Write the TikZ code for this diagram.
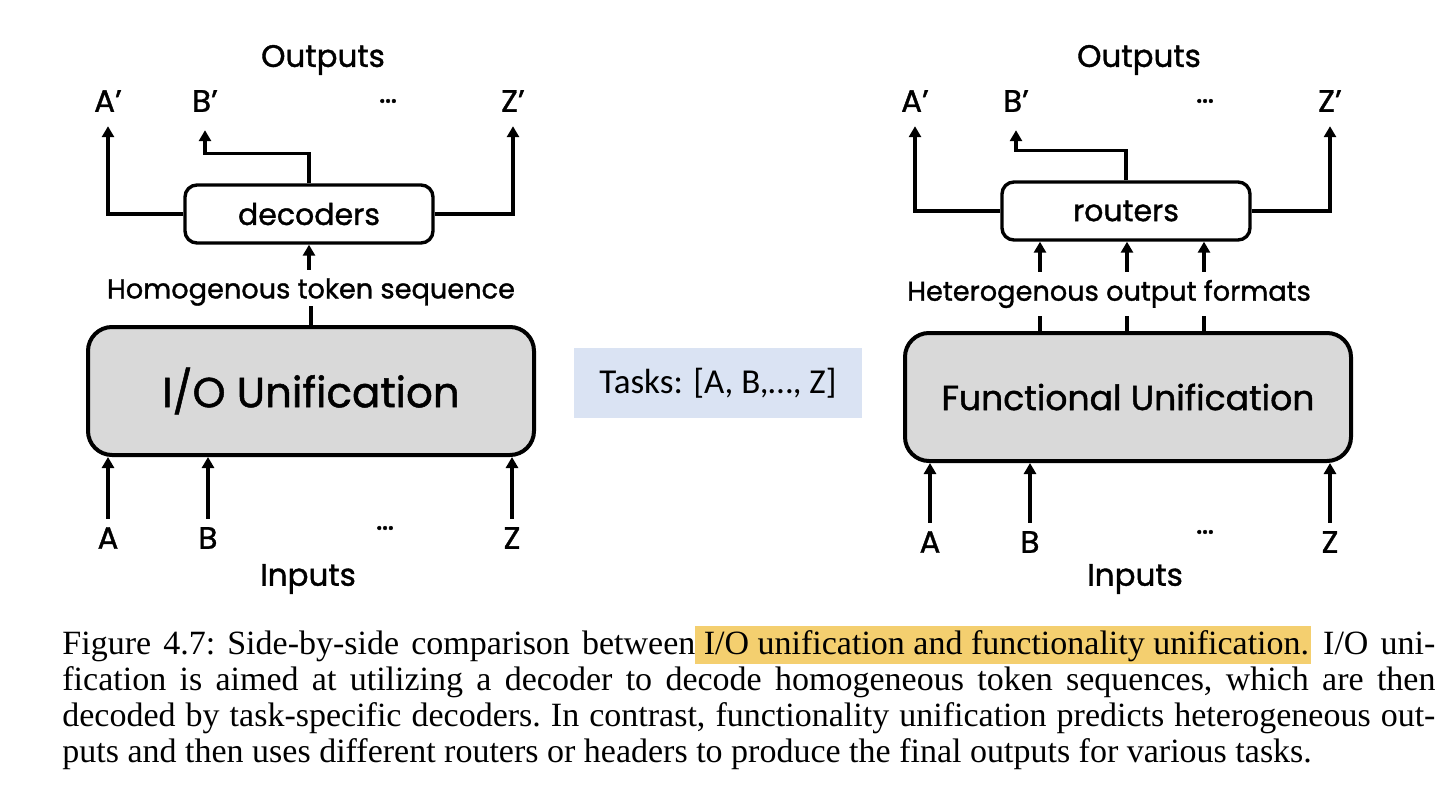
\documentclass[tikz,border=0pt]{standalone}
\usepackage{fontspec}
\setmainfont{Liberation Serif}
\newfontfamily\diagfont{Poppins}[FakeBold=1.2]
\newfontfamily\taskfont{Carlito}
\usetikzlibrary{arrows.meta}
\definecolor{boxgray}{HTML}{D9D9D9}
\definecolor{taskblue}{HTML}{DAE3F3}
\definecolor{hlyellow}{HTML}{F4CF6F}
\newcommand{\hlbox}[1]{{\setlength{\fboxsep}{0pt}\colorbox{hlyellow}{\rule[-5pt]{0pt}{19pt}#1\hspace{1pt}}}}

\begin{document}
\begin{tikzpicture}[x=0.5pt,y=-0.5pt,
    lbl/.style={font=\diagfont\fontsize{15.5}{17}\selectfont, inner sep=0pt},
    small/.style={font=\diagfont\fontsize{13.6}{15}\selectfont, inner sep=0pt},
    unitbox/.style={draw, line width=2pt, rounded corners=12pt, fill=boxgray,
      minimum width=223pt, minimum height=64pt},
    headbox/.style={draw, line width=1.7pt, rounded corners=6pt, fill=white,
      minimum width=124pt, minimum height=29pt, font=\diagfont\fontsize{15}{17}\selectfont},
    wire/.style={line width=1.7pt},
    arr/.style={wire, -{Triangle[width=6pt,length=5.5pt]}}]
  \useasboundingbox (0,0) rectangle (1452,792);

  % left: I/O unification
  \node[unitbox, font=\diagfont\fontsize{21}{24}\selectfont] (io) at (311,391) {I/O Unification};
  \node[headbox] (dec) at (309,214) {decoders};
  \node[small] (homo) at (311,292) {Homogenous token sequence};
  \node[lbl] (lout) at (323,60) {Outputs};
  \node[lbl] (la') at (108,101) {A’};
  \node[lbl] (lb') at (205,101) {B’};
  \node[lbl] (ld') at (388,101) {…};
  \node[lbl] (lz') at (513,101) {Z’};
  \node[lbl] (la) at (108,538) {A};
  \node[lbl] (lb) at (208,538) {B};
  \node[lbl] (ld) at (385,528) {…};
  \node[lbl] (lz) at (512,538) {Z};
  \node[lbl] (lin) at (308,579) {Inputs};

  \draw[arr, shorten >=7pt] (dec.west) -| (la');
  \draw[arr, shorten >=9pt] (dec.north) -- ++(0,-30) -| (lb');
  \draw[arr, shorten >=7pt] (dec.east) -| (lz');
  \draw[arr, shorten <=4pt] (homo.north -| dec.south) -- (dec.south);
  \draw[wire] (homo.south -| io.north) -- (io.north);
  \foreach \n in {la,lb,lz}
    \draw[arr, shorten <=4pt] (\n) -- (\n |- io.south);

  % middle
  \node[fill=taskblue, minimum width=144pt, minimum height=35pt,
    font=\taskfont\fontsize{17.5}{20}\selectfont] (tasks) at (718,383) {Tasks: [A, B,…, Z]};

  % right: functional unification
  \node[unitbox, font=\diagfont\fontsize{17.3}{20}\selectfont] (fun) at (1128,397) {Functional Unification};
  \node[headbox] (rtr) at (1126,211) {routers};
  \node[small] (het) at (1109,294) {Heterogenous output formats};
  \node[lbl] (rout) at (1139,60) {Outputs};
  \node[lbl] (ra') at (915,101) {A’};
  \node[lbl] (rb') at (1016,101) {B’};
  \node[lbl] (rd') at (1205,101) {…};
  \node[lbl] (rz') at (1330,101) {Z’};
  \node[lbl] (ra) at (930,542) {A};
  \node[lbl] (rb) at (1030,542) {B};
  \node[lbl] (rd) at (1205,532) {…};
  \node[lbl] (rz) at (1330,542) {Z};
  \node[lbl] (rin) at (1135,579) {Inputs};

  \draw[arr, shorten >=7pt] (rtr.west) -| (ra');
  \draw[arr, shorten >=9pt] (rtr.north) -- ++(0,-30) -| (rb');
  \draw[arr, shorten >=7pt] (rtr.east) -| (rz');
  \foreach \x [count=\i] in {1040,1127,1204} {
    \coordinate (f\i) at (\x,300);
    \draw[arr, shorten <=4pt] (f\i |- het.north) -- (f\i |- rtr.south);
    \draw[wire, shorten <=4pt] (f\i |- het.south) -- (f\i |- fun.north);
  }
  \foreach \n in {ra,rb,rz}
    \draw[arr, shorten <=4pt] (\n) -- (\n |- fun.south);

  % caption
  \node[anchor=north west, inner sep=0pt, text width=686.5pt, align=justify,
    font=\fontsize{17}{18}\selectfont\frenchspacing] (cap) at (62,626)
    {Figure 4.7: Side-by-side comparison between\hlbox{ I/O unification and functionality unification.} I/O uni-\linebreak
     fication is aimed at utilizing a decoder to decode homogeneous token sequences, which are then\linebreak
     decoded by task-specific decoders. In contrast, functionality unification predicts heterogeneous out-\linebreak
     puts and then uses different routers or headers to produce the final outputs for various tasks.};
\end{tikzpicture}
\end{document}
